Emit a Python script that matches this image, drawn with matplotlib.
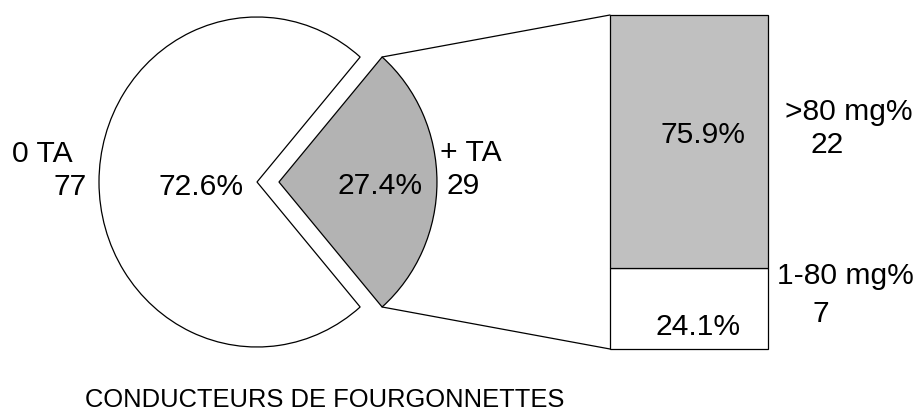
import matplotlib
matplotlib.use("Agg")
import matplotlib.pyplot as plt
from matplotlib.patches import ConnectionPatch
import numpy as np

plt.rcParams['font.family'] = ['Liberation Sans', 'DejaVu Sans']

# ---- data ----
pie_labels = ["+ TA", "0 TA"]
pie_counts = [29, 77]
bar_labels = ["1-80 mg%", ">80 mg%"]
bar_counts = [7, 22]
title = "CONDUCTEURS DE FOURGONNETTES"

W, H = 917, 411
fig = plt.figure(figsize=(W / 100, H / 100), dpi=100)
fig.patch.set_facecolor("white")

def fbox(x0, y0, x1, y1):
    """pixel box (top-left origin) -> figure fraction rect"""
    return [x0 / W, (H - y1) / H, (x1 - x0) / W, (y1 - y0) / H]

LW = 0.9
PIE_GRAY = "#b3b3b3"
BAR_GRAY = "#c0c0c0"

# ---- pie ----
rx, ry = 158.0, 165.0
cx, cy = 257.0, 182.0
xmax = 1.3
ax_pie = fig.add_axes(fbox(cx - rx, cy - ry, cx - rx + rx * (1 + xmax), cy + ry))
total = sum(pie_counts)
start = -pie_counts[0] / total * 180.0
wedges, _ = ax_pie.pie(pie_counts, colors=[PIE_GRAY, "white"], startangle=start,
                       explode=[0.139, 0], radius=1.0,
                       wedgeprops=dict(edgecolor="black", linewidth=LW))
for w in wedges:
    w.set_clip_on(False)
ax_pie.set_aspect("auto")
ax_pie.set_xlim(-1, xmax)
ax_pie.set_ylim(-1, 1)
ax_pie.axis("off")

# ---- bar ----
bx0, bx1, by0, by1 = 610, 768, 15, 349
ax_bar = fig.add_axes(fbox(bx0, by0, bx1, by1))
sub_total = sum(bar_counts)
b1 = ax_bar.bar([0], [bar_counts[0]], width=1.0, bottom=0, color="white",
                edgecolor="black", linewidth=LW)
b2 = ax_bar.bar([0], [bar_counts[1]], width=1.0, bottom=bar_counts[0], color=BAR_GRAY,
                edgecolor="black", linewidth=LW)
for p in list(b1) + list(b2):
    p.set_clip_on(False)
ax_bar.set_xlim(-0.5, 0.5)
ax_bar.set_ylim(0, sub_total)
ax_bar.axis("off")

# ---- connectors ----
g = wedges[0]
gcx, gcy = g.center
for th, yb in [(g.theta2, sub_total), (g.theta1, 0)]:
    pa = (gcx + g.r * np.cos(np.radians(th)), gcy + g.r * np.sin(np.radians(th)))
    con = ConnectionPatch(xyA=pa, coordsA=ax_pie.transData,
                          xyB=(-0.5, yb), coordsB=ax_bar.transData,
                          color="black", linewidth=LW)
    fig.add_artist(con)

# ---- text layer (pixel coords) ----
ax_t = fig.add_axes([0, 0, 1, 1])
ax_t.set_xlim(0, W)
ax_t.set_ylim(H, 0)
ax_t.axis("off")
ax_t.patch.set_alpha(0)

FS = 21.6
pct = [c / total * 100 for c in pie_counts]
sub_pct = [c / sub_total * 100 for c in bar_counts]

def T(x, y, s, ha="left", fs=FS):
    ax_t.text(x, y, s, ha=ha, va="baseline", fontsize=fs, color="black")

T(12, 162, pie_labels[1])
T(87, 195, str(pie_counts[1]), ha="right")
T(201.5, 195, f"{pct[1]:.1f}%", ha="center")
T(380, 194, f"{pct[0]:.1f}%", ha="center")
T(440, 161, pie_labels[0])
T(447, 194, str(pie_counts[0]))

T(702.5, 143, f"{sub_pct[1]:.1f}%", ha="center")
T(698, 335, f"{sub_pct[0]:.1f}%", ha="center")
T(785, 120, bar_labels[1])
T(810, 153, str(bar_counts[1]))
T(777, 284, bar_labels[0])
T(812, 322, str(bar_counts[0]))

T(324.5, 407, title, ha="center", fs=18.4)

fig.savefig("out.png", dpi=100, facecolor="white")
